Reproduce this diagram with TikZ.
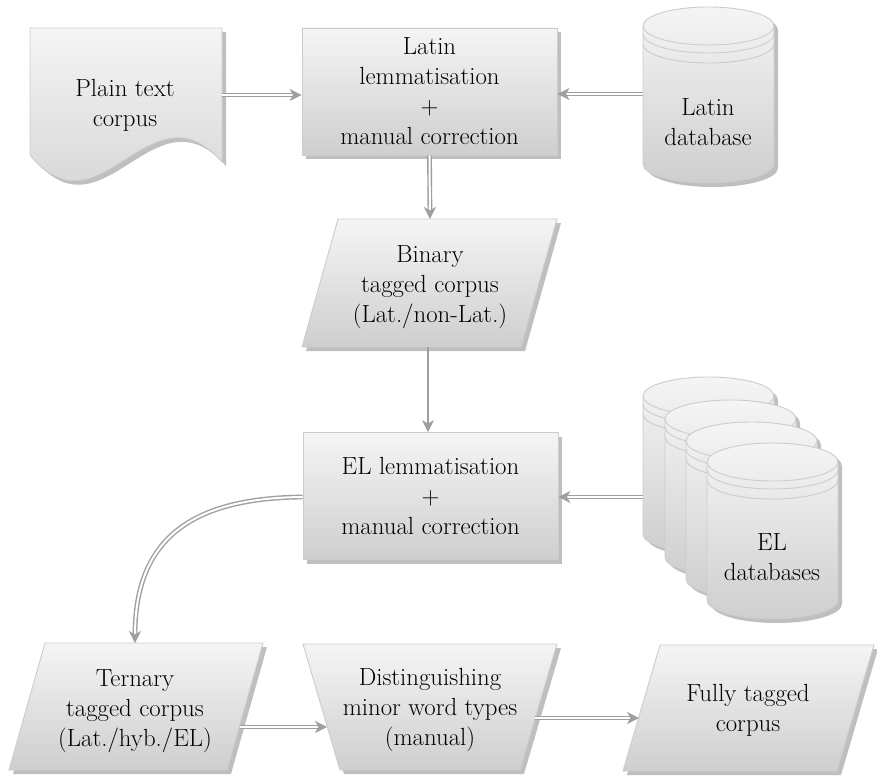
\documentclass[tikz,border=0pt]{standalone}
\usetikzlibrary{shadows,arrows.meta}
\tikzset{
 fillsh/.style={draw=gray!40, line width=0.9pt, top color=gray!8, bottom color=gray!38,
   drop shadow={shadow xshift=4pt, shadow yshift=-4pt, fill=gray!50, opacity=1}},
 txt/.style={font=\fontsize{24.8}{30}\selectfont, align=center, text=black, inner sep=0pt},
 procbox/.style={fillsh, rectangle, inner sep=0pt, minimum width=255pt, minimum height=127pt, txt},
 dbl/.style={draw=gray!75, double=white, double distance=2pt, line width=1.4pt, -{Stealth[length=12pt,width=12pt,inset=3.5pt]}},
 sgl/.style={draw=gray!75, line width=1.6pt, -{Stealth[length=12pt,width=12pt,inset=3.5pt]}},
 cylline/.style={draw=gray!40, line width=0.9pt},
}
\newcommand\mycyl[2]{%
 \path[fillsh] (#1,#2+19) -- (#1,#2+157) arc[start angle=180,end angle=0,x radius=65.5,y radius=19]
   -- (#1+131,#2+19) arc[start angle=0,end angle=-180,x radius=65.5,y radius=19] -- cycle;
 \draw[cylline] (#1,#2+19) arc[start angle=180,end angle=0,x radius=65.5,y radius=19];
 \draw[cylline] (#1,#2+27) arc[start angle=180,end angle=0,x radius=65.5,y radius=19];
 \draw[cylline] (#1,#2+37) arc[start angle=180,end angle=0,x radius=65.5,y radius=19];
}
\begin{document}
\begin{tikzpicture}[x=1pt,y=-1pt]
\useasboundingbox[fill=white] (0,0) rectangle (877,778);

% plain text document
\path[fillsh] (30,28) -- (222,28) -- (222,162) .. controls (150,80) and (100,240) .. (30,155) -- cycle;
\node[txt] (plain) at (125,105) {Plain text\\corpus};
\coordinate (plainE) at (222,95);

% Latin lemmatisation
\node[procbox] (latin) at (429.5,91.5) {Latin\\lemmatisation\\+\\manual correction};

% Latin database
\mycyl{643}{7}
\node[txt] (latdb) at (708,122) {Latin\\database};
\coordinate (latdbW) at (643,94);

% Binary tagged corpus
\path[fillsh] (338,219) -- (557,219) -- (521,347) -- (302,347) -- cycle;
\node[txt] (binary) at (430,287) {Binary\\tagged corpus\\(Lat./non-Lat.)};
\coordinate (binN) at (430,219);
\coordinate (binS) at (428,347);

% EL lemmatisation
\node[procbox] (el) at (430.5,496) {EL lemmatisation\\+\\manual correction};

% EL databases
\mycyl{643}{377}
\mycyl{665}{400}
\mycyl{686}{422}
\mycyl{707}{443}
\node[txt] (eldb) at (772,557) {EL\\databases};
\coordinate (eldbW) at (643,497);

% Ternary tagged corpus
\path[fillsh] (45,643) -- (263,643) -- (227,770) -- (9,770) -- cycle;
\node[txt] (ternary) at (135,711) {Ternary\\tagged corpus\\(Lat./hyb./EL)};
\coordinate (terN) at (135,643);
\coordinate (terE) at (240,727);

% Distinguishing (manual operation)
\path[fillsh] (303,644) -- (557,644) -- (520,770) -- (340,770) -- cycle;
\node[txt] (dist) at (430,710) {Distinguishing\\minor word types\\(manual)};
\coordinate (distW) at (327,727);
\coordinate (distE) at (535,718);

% Fully tagged corpus
\path[fillsh] (660,645) -- (874,645) -- (837,771) -- (623,771) -- cycle;
\node[txt] (fully) at (748,710) {Fully tagged\\corpus};
\coordinate (fullyW) at (639,718);

% connectors
\draw[dbl] (plainE) -- (latin.west |- plainE);
\draw[dbl] (latdbW) -- (latin.east |- latdbW);
\draw[dbl] (latin.south) -- (binN);
\draw[sgl] (binS) -- (binS |- el.north);
\draw[dbl] (eldbW) -- (el.east |- eldbW);
\draw[dbl] (el.west |- eldbW) .. controls (190,498) and (135,540) .. (terN);
\draw[dbl] (terE) -- (distW);
\draw[dbl] (distE) -- (fullyW);
\end{tikzpicture}
\end{document}
